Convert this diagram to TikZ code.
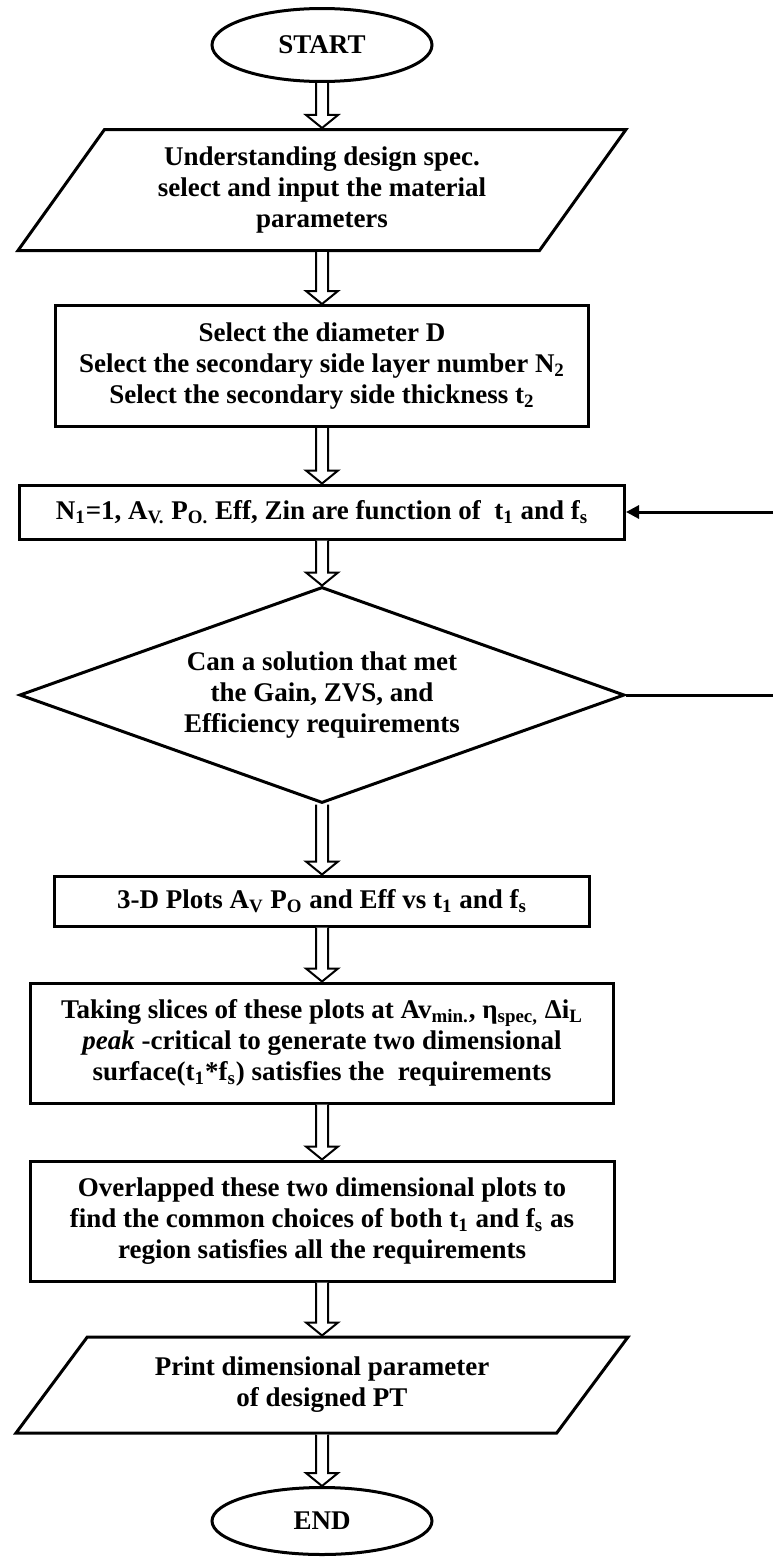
\documentclass[tikz,border=0pt]{standalone}
\usepackage{fontspec}
\setmainfont{Liberation Serif}
\usetikzlibrary{shapes.geometric, arrows.meta, calc}

\begin{document}
\begin{tikzpicture}[x=0.5pt, y=-0.5pt,
    every node/.style={font=\bfseries\fontsize{13.5}{15.5}\selectfont, align=center, inner sep=0pt},
    term/.style={ellipse, draw, line width=1.5pt, minimum width=110pt},
    io/.style={trapezium, trapezium stretches body, draw, line width=1.5pt},
    proc/.style={rectangle, draw, line width=1.5pt},
    dec/.style={diamond, aspect=2.8, draw, line width=1.5pt},
    hollow/.style={draw, fill=white, line width=1pt, to path={
        ($(\tikztostart)+(-3pt,0)$) -- ($(\tikztotarget)+(-3pt,6.5pt)$) -- ($(\tikztotarget)+(-8pt,6.5pt)$)
        -- (\tikztotarget) -- ($(\tikztotarget)+(8pt,6.5pt)$) -- ($(\tikztotarget)+(3pt,6.5pt)$)
        -- ($(\tikztostart)+(3pt,0)$)}},
    back/.style={line width=1.5pt, -{Triangle[length=6.5pt, width=6.5pt]}}]
    \useasboundingbox (0,0) rectangle (773,1558);

    \node[term, minimum height=36.5pt] (start) at (322,45) {START};
    \node[io, trapezium left angle=45, trapezium right angle=135, minimum width=304pt, minimum height=60.5pt] (input) at (322,190)
        {Understanding design spec.\\select and input the material\\parameters};
    \node[proc, minimum width=266.5pt, minimum height=60.5pt] (select) at (322,366)
        {Select the diameter D\\Select the secondary side layer number N\textsubscript{2}\\Select the secondary side thickness t\textsubscript{2}};
    \node[proc, minimum width=302.5pt, minimum height=27pt] (func) at (322,512)
        {N\textsubscript{1}=1, A\textsubscript{V.} P\textsubscript{O.} Eff, Zin are function of\ \ t\textsubscript{1} and f\textsubscript{s}};
    \node[dec, minimum width=302.5pt, minimum height=108pt] (check) at (322,695)
        {Can a solution that met\\the Gain, ZVS, and\\Efficiency requirements};
    \node[proc, minimum width=267.5pt, minimum height=25pt] (plots) at (322,901)
        {3-D Plots A\textsubscript{V} P\textsubscript{O} and Eff vs t\textsubscript{1} and f\textsubscript{s}};
    \node[proc, minimum width=291.5pt, minimum height=60pt] (slices) at (322,1043)
        {Taking slices of these plots at Av\textsubscript{min.}, η\textsubscript{spec,} Δi\textsubscript{L}\\\textit{peak} -critical to generate two dimensional\\surface(t\textsubscript{1}*f\textsubscript{s}) satisfies the\ \ requirements};
    \node[proc, minimum width=292pt, minimum height=60pt] (overlap) at (322,1221)
        {Overlapped these two dimensional plots to\\find the common choices of both t\textsubscript{1} and f\textsubscript{s} as\\region satisfies all the requirements};
    \node[io, trapezium left angle=38, trapezium right angle=142, minimum width=306pt, minimum height=48pt] (output) at (322,1385)
        {Print dimensional parameter\\of designed PT};
    \node[term, minimum height=33.5pt] (stop) at (322,1521) {END};

    \draw[hollow] (start.south) to (input.north);
    \draw[hollow] (input.south) to (select.north);
    \draw[hollow] (select.south) to (func.north);
    \draw[hollow] (func.south) to (check.north);
    \draw[hollow] (check.south) to (plots.north);
    \draw[hollow] (plots.south) to (slices.north);
    \draw[hollow] (slices.south) to (overlap.north);
    \draw[hollow] (overlap.south) to (output.north);
    \draw[hollow] (output.south) to (stop.north);

    \coordinate (loopin) at (773,512);
    \coordinate (loopout) at (773,695);
    \draw[back] (loopin) -- (func.east);
    \draw[line width=1.5pt] (check.east) -- (loopout);
\end{tikzpicture}
\end{document}
